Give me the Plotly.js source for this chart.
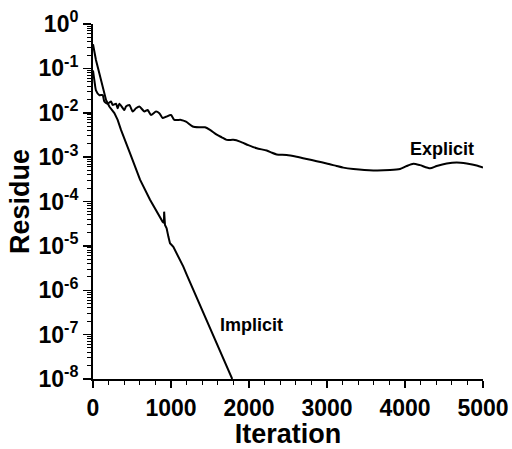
<!DOCTYPE html>
<html>
<head>
<meta charset="utf-8">
<script src="https://cdn.plot.ly/plotly-3.0.1.min.js"></script>
<style>html,body{margin:0;padding:0;background:#fff;}#chart{width:512px;height:449px;}</style>
</head>
<body>
<div id="chart"></div>
<script>
// Explicit scheme residual history
var explicitIter = [0, 20, 38, 81, 124, 145, 188, 231, 252, 295, 316, 338, 402, 423, 466, 509, 551, 594, 658, 701, 744, 808, 850, 893, 936, 1000, 1043, 1128, 1192, 1278, 1363, 1436, 1500, 1586, 1650, 1714, 1799, 1885, 1991, 2099, 2227, 2291, 2355, 2483, 2611, 2740, 2868, 2996, 3124, 3209, 3338, 3594, 3808, 3936, 4021, 4107, 4192, 4321, 4406, 4535, 4663, 4791, 4919, 5000];
var explicitRes = [9.0e-2, 5.0e-2, 3.2e-2, 2.5e-2, 2.5e-2, 1.8e-2, 1.6e-2, 1.8e-2, 1.5e-2, 1.6e-2, 1.26e-2, 1.6e-2, 1.15e-2, 1.38e-2, 1.5e-2, 1.07e-2, 1.26e-2, 1.38e-2, 1.07e-2, 1.15e-2, 8.9e-3, 1.07e-2, 9.8e-3, 7.6e-3, 8.1e-3, 8.9e-3, 6.9e-3, 6.9e-3, 6.3e-3, 4.9e-3, 4.7e-3, 4.7e-3, 4.1e-3, 3.2e-3, 2.8e-3, 2.45e-3, 2.45e-3, 2.24e-3, 1.86e-3, 1.58e-3, 1.41e-3, 1.26e-3, 1.15e-3, 1.12e-3, 1.02e-3, 9.1e-4, 8.1e-4, 7.2e-4, 6.3e-4, 5.8e-4, 5.4e-4, 5.0e-4, 5.1e-4, 5.4e-4, 6.3e-4, 7.1e-4, 6.6e-4, 5.6e-4, 6.3e-4, 7.2e-4, 7.6e-4, 7.2e-4, 6.5e-4, 5.8e-4];

// Implicit scheme residual history
var implicitIter = [0, 38, 81, 124, 167, 209, 274, 316, 359, 474, 603, 731, 859, 893, 910, 912, 923, 944, 966, 987, 1030, 1094, 1158, 1201, 1500, 1785];
var implicitRes = [3.5e-1, 1.55e-1, 7.8e-2, 3.9e-2, 1.95e-2, 1.38e-2, 9.8e-3, 6.9e-3, 4.1e-3, 1.23e-3, 3.1e-4, 1.1e-4, 4.2e-5, 3.5e-5, 3.3e-5, 5.9e-5, 2.95e-5, 2.5e-5, 1.62e-5, 1.15e-5, 9.5e-6, 5.75e-6, 3.4e-6, 2.24e-6, 1.45e-7, 1.0e-8];

// Axis ticks
var yTickVals = [1e0, 1e-1, 1e-2, 1e-3, 1e-4, 1e-5, 1e-6, 1e-7, 1e-8];
var yTickText = ['10<sup>0</sup>', '10<sup>-1</sup>', '10<sup>-2</sup>', '10<sup>-3</sup>', '10<sup>-4</sup>', '10<sup>-5</sup>', '10<sup>-6</sup>', '10<sup>-7</sup>', '10<sup>-8</sup>'];
var xTickVals = [0, 1000, 2000, 3000, 4000, 5000];
var xTickText = ['0', '1000', '2000', '3000', '4000', '5000'];

var fontFam = '"Liberation Sans", Arial, sans-serif';
var traces = [
  {x: explicitIter, y: explicitRes, type: 'scatter', mode: 'lines', line: {color: '#000', width: 2, shape: 'spline', smoothing: 0.6}, name: 'Explicit', hoverinfo: 'skip'},
  {x: implicitIter, y: implicitRes, type: 'scatter', mode: 'lines', line: {color: '#000', width: 2}, name: 'Implicit', hoverinfo: 'skip'}
];

var layout = {
  width: 512, height: 449,
  margin: {l: 93, r: 29, t: 24, b: 70, pad: 0},
  paper_bgcolor: '#fff', plot_bgcolor: '#fff',
  showlegend: false,
  font: {family: fontFam, color: '#000', size: 23},
  xaxis: {
    range: [0, 5000], showgrid: false, zeroline: false,
    showline: true, linecolor: '#000', linewidth: 2,
    tickmode: 'array', tickvals: xTickVals, ticktext: xTickText,
    ticks: 'outside', ticklen: 7, tickwidth: 1.5, tickcolor: '#000',
    minor: {dtick: 200, ticks: 'outside', ticklen: 4, tickwidth: 1, tickcolor: '#000', showgrid: false},
    tickfont: {family: fontFam, size: 23, weight: 700, color: '#000'},
    title: {text: 'Iteration', font: {family: fontFam, size: 27, weight: 700, color: '#000'}, standoff: 2}
  },
  yaxis: {
    type: 'log', range: [-8, 0], showgrid: false, zeroline: false,
    showline: true, linecolor: '#000', linewidth: 2,
    tickmode: 'array', tickvals: yTickVals, ticktext: yTickText,
    ticks: 'outside', ticklen: 8, tickwidth: 1.5, tickcolor: '#000',
    minor: {dtick: 'D1', ticks: 'outside', ticklen: 4, tickwidth: 1, tickcolor: '#000', showgrid: false},
    tickfont: {family: fontFam, size: 23, weight: 700, color: '#000'},
    title: {text: 'Residue', font: {family: fontFam, size: 27, weight: 700, color: '#000'}, standoff: 1}
  },
  annotations: [
    {x: 0.894, y: 0.648, xref: 'paper', yref: 'paper', text: 'Explicit', showarrow: false, xanchor: 'center', yanchor: 'middle', font: {family: fontFam, size: 18, weight: 700, color: '#000'}},
    {x: 0.406, y: 0.152, xref: 'paper', yref: 'paper', text: 'Implicit', showarrow: false, xanchor: 'center', yanchor: 'middle', font: {family: fontFam, size: 18, weight: 700, color: '#000'}}
  ]
};

Plotly.newPlot('chart', traces, layout, {displayModeBar: false, staticPlot: true});
</script>
</body>
</html>
